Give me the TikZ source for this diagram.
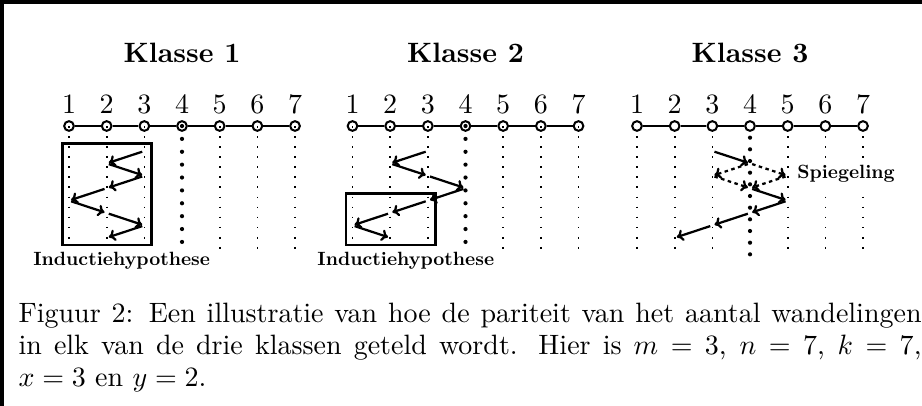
\documentclass[tikz,border=0pt]{standalone}
\usepackage{fontspec}
\newfontfamily\labfont{lmroman10-bold.otf}
\usetikzlibrary{arrows.meta}
\begin{document}
\begin{tikzpicture}[x=0.35714pt,y=-0.35714pt,
  vtx/.style={circle, draw, line width=0.72pt, fill=white, inner sep=0pt, minimum size=3.46pt},
  numlab/.style={anchor=base, inner sep=0pt, font=\fontsize{10}{12}\selectfont},
  titlelab/.style={anchor=base, inner sep=0pt, font=\fontsize{10}{12}\selectfont\bfseries},
  edge/.style={line width=0.72pt},
  thindots/.style={line width=0.6pt, dash pattern=on 0.6pt off 3pt},
  thickdots/.style={line width=1.5pt, line cap=round, dash pattern=on 0pt off 4.6pt},
  walk/.style={line width=0.8pt, -{To[length=2.4pt,width=4.2pt]}, shorten <=0.8pt, shorten >=0.8pt},
  mirror/.style={walk, dash pattern=on 1.25pt off 1.25pt},
  ibox/.style={line width=0.9pt},
  smalllab/.style={font=\labfont\fontsize{6.85}{8}\selectfont, fill=white, inner sep=2pt},
]
\useasboundingbox (0,0) rectangle (922,406);

% column coordinates
\foreach \k/\X in {1/69, 2/352.5, 3/637} {
  \foreach \i in {1,...,7} {
    \coordinate (c\k-\i) at ({\X+37.67*(\i-1)},126);
  }
}
\coordinate (bot) at (0,257);
\coordinate (botA) at (0,242.5);
\coordinate (botB) at (0,255.5);

% Klasse 3 dotted columns (behind the vertices)
\foreach \i in {1,2,3,5,6,7} \draw[thindots] (c3-\i) -- (c3-\i |- bot);
\draw[thickdots, dash pattern=on 0pt off 4.167pt] (c3-4) -- (c3-4 |- botB);

% vertices, edges, number labels, titles
\foreach \k/\X in {1/69, 2/352.5, 3/637} {
  \foreach \i in {1,...,7} {
    \node[vtx] (v\k-\i) at (c\k-\i) {};
    \node[numlab] (n\k-\i) at ({\X+37.67*(\i-1)},113) {\i};
  }
  \node[titlelab] (t\k) at ({\X+113},62) {Klasse \k};
}
\foreach \k in {1,2,3} {
  \foreach \i [evaluate=\i as \j using int(\i+1)] in {1,...,6} {
    \draw[edge] (v\k-\i) -- (v\k-\j);
  }
}

% Klasse 1 and 2 dotted columns
\foreach \k in {1,2} {
  \foreach \i in {1,2,3,5,6,7} \draw[thindots] (c\k-\i) -- (c\k-\i |- bot);
  \draw[thickdots] (c\k-4) -- (c\k-4 |- botA);
}

% walks
\foreach \c [count=\n from 0] in {3,2,3,2,1,2,3,2} {
  \coordinate (w1-\n) at ({69+37.67*(\c-1)},{151+12.4*\n});
}
\foreach \c [count=\n from 0] in {3,2,3,4,3,2,1,2} {
  \coordinate (w2-\n) at ({352.5+37.67*(\c-1)},{151+12.4*\n});
}
\foreach \a [evaluate=\a as \b using int(\a+1)] in {0,...,6} {
  \draw[walk] (w1-\a) -- (w1-\b);
  \draw[walk] (w2-\a) -- (w2-\b);
}

% Klasse 3 walk
\coordinate (q0) at ({637+37.67*2},151);
\coordinate (q1) at ({637+37.67*3},163.4);
\coordinate (q2a) at ({637+37.67*2},175.8);
\coordinate (q2b) at ({637+37.67*4},175.8);
\coordinate (q3) at ({637+37.67*3},188.2);
\coordinate (q4) at ({637+37.67*4},200.6);
\coordinate (q5) at ({637+37.67*3},213);
\coordinate (q6) at ({637+37.67*2},225.4);
\coordinate (q7) at ({637+37.67*1},237.8);
\draw[walk] (q0) -- (q1);
\draw[mirror] (q1) -- (q2a);
\draw[mirror] (q1) -- (q2b);
\draw[mirror] (q2a) -- (q3);
\draw[mirror] (q2b) -- (q3);
\draw[walk] (q3) -- (q4);
\draw[walk] (q4) -- (q5);
\draw[walk] (q5) -- (q6);
\draw[walk] (q6) -- (q7);

% labels
\node[smalllab, anchor=base] (ih1) at (121.7,265) {Inductiehypothese};
\node[smalllab, anchor=base] (ih2) at (405.8,265) {Inductiehypothese};
\node[smalllab, anchor=base west] (sp) at (791.1,178.5) {Spiegeling};

% induction boxes
\draw[ibox] (62.7,143.3) rectangle (151.7,245);
\draw[ibox] (346,193.5) rectangle (435.5,245);

% caption
\node[anchor=north west, inner sep=0pt, text width=322.5pt, align=justify,
      font=\fontsize{10}{11.43}\selectfont] (cap) at (18,302.3)
  {Figuur 2: Een illustratie van hoe de pariteit van het aantal wandelingen\linebreak
   in elk van de drie klassen geteld wordt. Hier is $m=3$, $n=7$, $k=7$,\linebreak
   $x=3$ en $y=2$.};

% frame
\draw[line width=1.43pt] (2,412) -- (2,2) -- (928,2);
\end{tikzpicture}
\end{document}
